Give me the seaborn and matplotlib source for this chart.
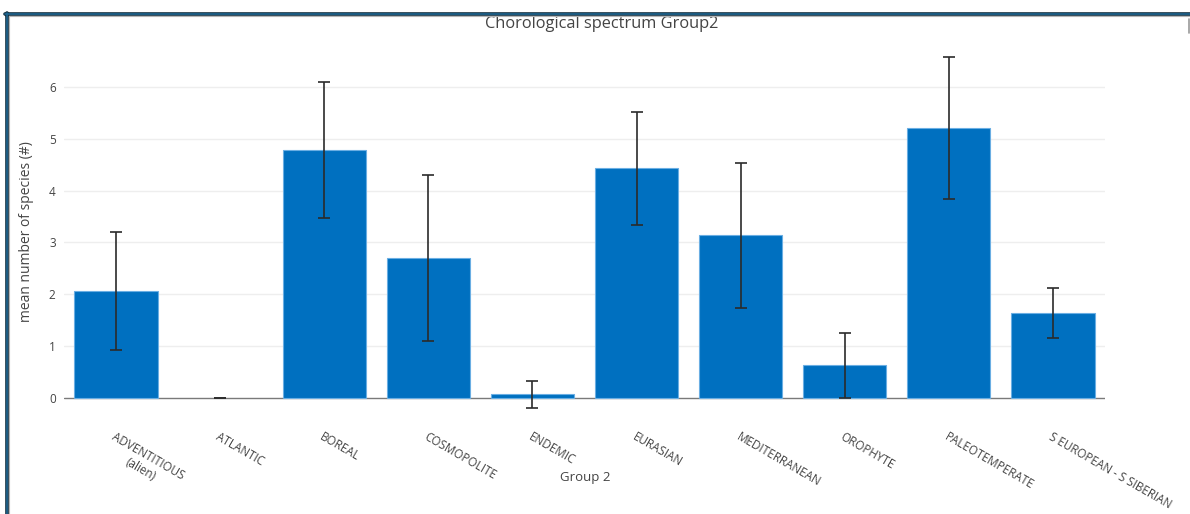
import matplotlib
matplotlib.use("Agg")
import matplotlib.pyplot as plt
from matplotlib.lines import Line2D
import seaborn as sns
import pandas as pd

# Chorological groups with mean species counts and their error margins
categories = [
    "ADVENTITIOUS\n(alien)", "ATLANTIC", "BOREAL", "COSMOPOLITE", "ENDEMIC",
    "EURASIAN", "MEDITERRANEAN", "OROPHYTE", "PALEOTEMPERATE",
    "S EUROPEAN - S SIBERIAN",
]
means = [2.07, 0.0, 4.79, 2.70, 0.07, 4.43, 3.14, 0.63, 5.21, 1.64]
errors = [1.14, 0.0, 1.31, 1.60, 0.26, 1.09, 1.40, 0.63, 1.37, 0.49]
y_ticks = [0, 1, 2, 3, 4, 5, 6]

title = "Chorological spectrum Group2"
x_title = "Group 2"
y_title = "mean number of species (#)"

df = pd.DataFrame({"group": categories, "mean": means, "err": errors})

sns.set_theme(style="white")
plt.rcParams["font.family"] = ["Open Sans", "DejaVu Sans"]

W, H = 1190, 514
fig = plt.figure(figsize=(W / 100, H / 100), dpi=100)
ax = fig.add_axes([64 / W, 1 - 413.5 / H, (1105 - 64) / W, (413.5 - 40.4) / H])

bar_color = "#0070c0"
text_color = "#444444"

sns.barplot(data=df, x="group", y="mean", color=bar_color, saturation=1,
            width=0.8, errorbar=None, edgecolor="#6aaee3", linewidth=0.8,
            ax=ax, zorder=2)
# empty bars get no outline
for patch in ax.patches:
    if patch.get_height() == 0:
        patch.set_linewidth(0)

ax.errorbar(range(len(df)), df["mean"], yerr=df["err"], fmt="none",
            ecolor="#2b2b2b", elinewidth=1.2, capsize=4.5, capthick=1.2,
            zorder=3)

ax.set_xlim(-0.5, len(df) - 0.5)
ax.set_ylim(-0.3, 6.9)
ax.set_yticks(y_ticks)
ax.set_yticklabels([str(t) for t in y_ticks])

# light horizontal grid and a zero line
for t in y_ticks[1:]:
    ax.axhline(t, color="#eeeeee", lw=1, zorder=0)
ax.axhline(0, color="#7a7a7a", lw=1, zorder=1)

for s in ax.spines.values():
    s.set_visible(False)

ax.tick_params(axis="y", length=0, pad=6, labelsize=8.5, labelcolor=text_color)
ax.tick_params(axis="x", length=0, pad=12, labelsize=8.4, labelcolor=text_color)
for lab in ax.get_xticklabels():
    lab.set_rotation(-30)
    lab.set_rotation_mode("anchor")
    lab.set_ha("left")
    lab.set_va("top")
    lab.set_multialignment("center")

ax.set_xlabel("")
ax.set_ylabel("")
fig.text(585 / W, 1 - 478 / H, x_title, ha="center", va="center",
         fontsize=9.5, color=text_color)
fig.text(27 / W, 1 - 232 / H, y_title, ha="center", va="center",
         rotation=90, fontsize=10, color=text_color)
fig.text(602 / W, 1 - 23.5 / H, title, ha="center", va="center",
         fontsize=11.8, color=text_color)

# surrounding panel frame (top and left edges)
def px_line(xs, ys, **kw):
    fig.add_artist(Line2D([x / W for x in xs], [1 - y / H for y in ys],
                          transform=fig.transFigure, **kw))

px_line([5, W], [16.2, 16.2], color="#b5b5b5", lw=0.8, zorder=10)
px_line([9.2, 9.2], [16, H], color="#b5b5b5", lw=0.8, zorder=10)
px_line([5, W], [14, 14], color="#0e2a3a", lw=2.6, zorder=11)
px_line([7, 7], [12.5, H], color="#0e2a3a", lw=2.6, zorder=11)
px_line([5, W], [14, 14], color="#1f6690", lw=1.2, zorder=12)
px_line([7, 7], [12.5, H], color="#1f6690", lw=1.2, zorder=12)
px_line([1188.5, 1188.5], [19, 33], color="#9a9a9a", lw=1.2, zorder=10)

fig.savefig("out.png", dpi=100, facecolor="white")
